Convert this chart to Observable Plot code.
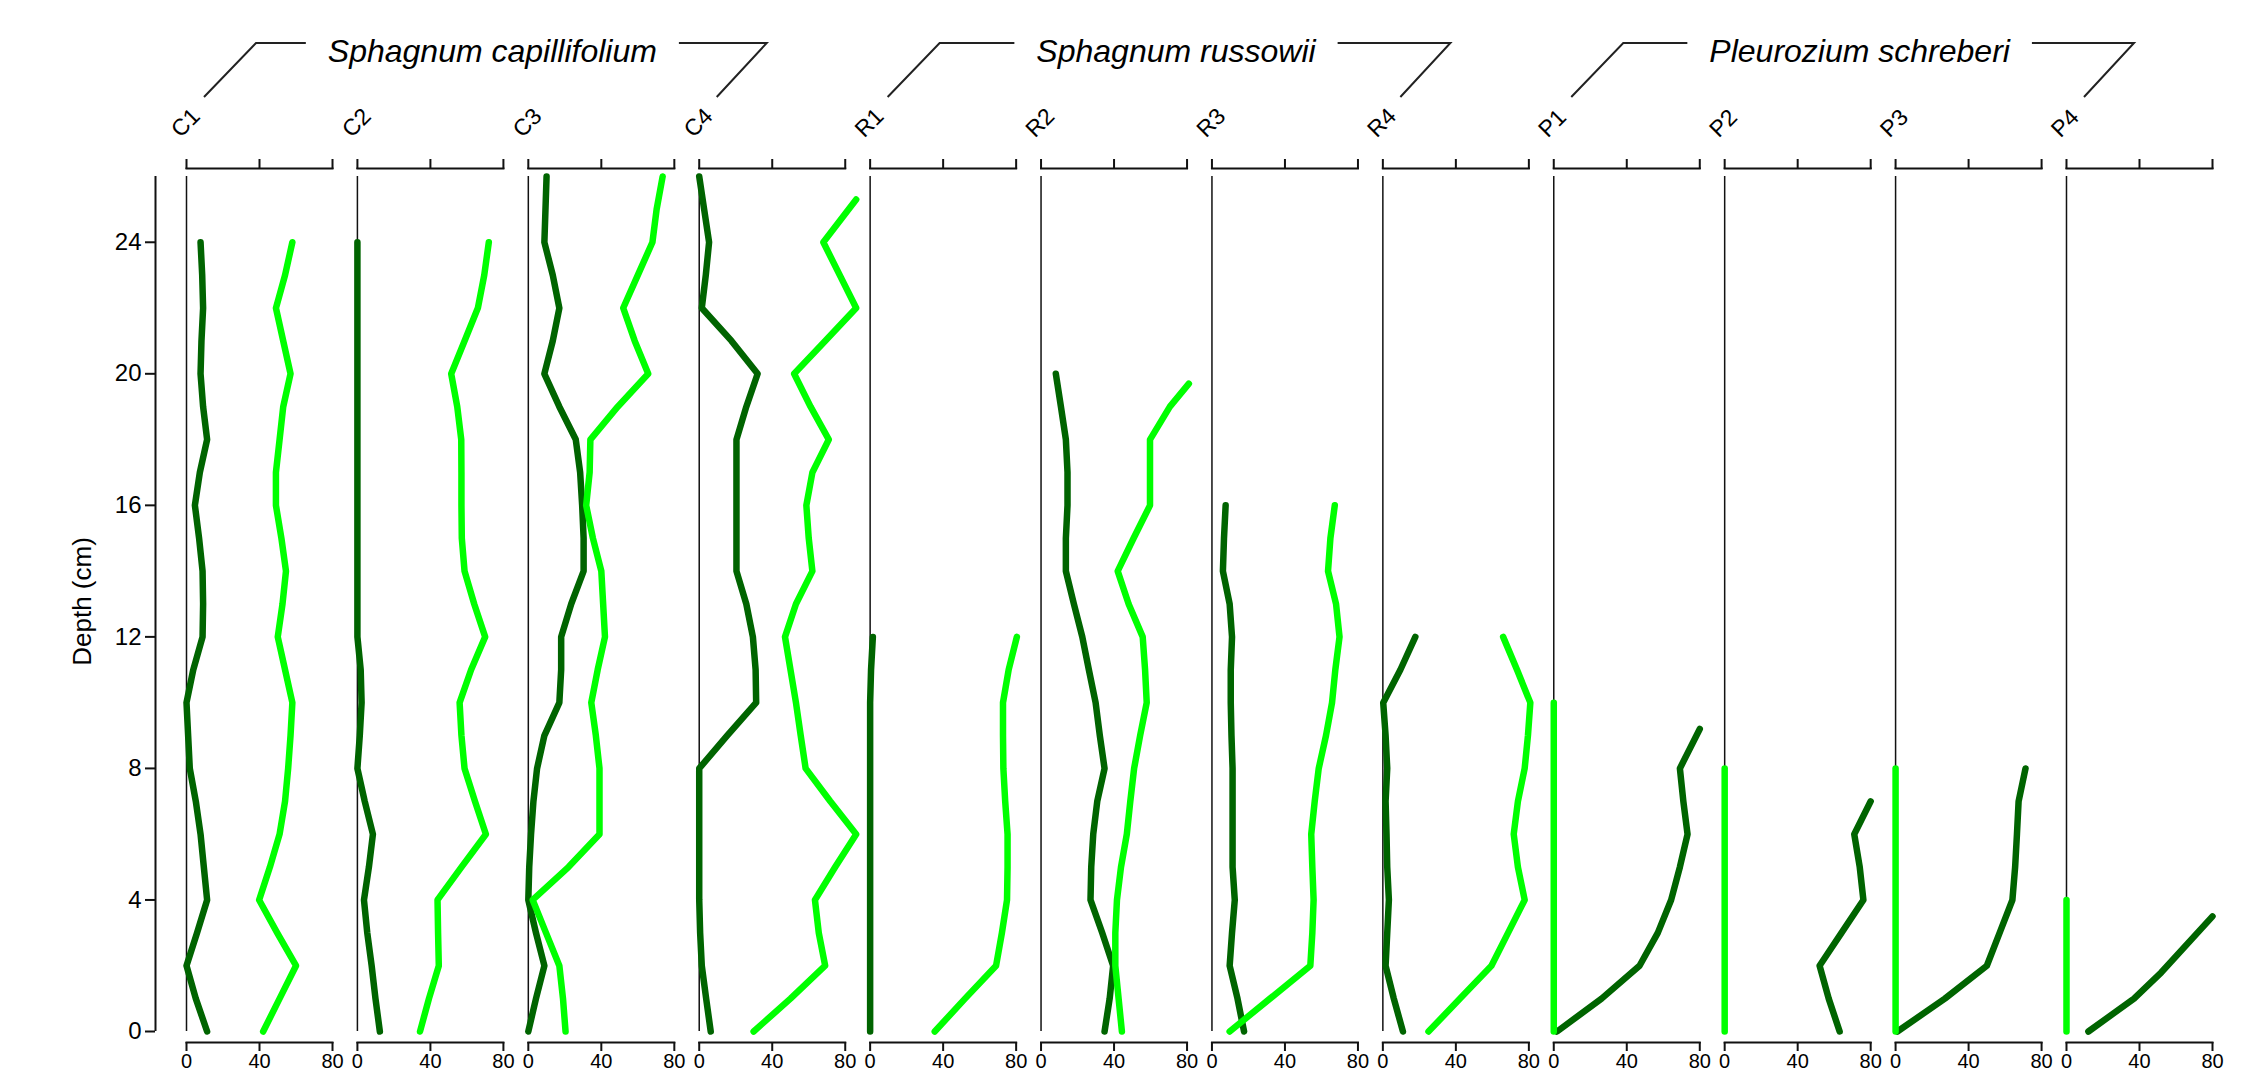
<!DOCTYPE html>
<html>
<head>
<meta charset="utf-8">
<script src="https://cdn.jsdelivr.net/npm/d3@7"></script>
<script src="https://cdn.jsdelivr.net/npm/@observablehq/plot@0.6"></script>
<style>
  html, body { margin: 0; padding: 0; background: #fff; }
  svg { display: block; }
</style>
</head>
<body>
<div id="chart"></div>
<script>
// ---------- categories & labels ----------
const sites = ["C1","C2","C3","C4","R1","R2","R3","R4","P1","P2","P3","P4"];
const groupNames = ["Sphagnum capillifolium", "Sphagnum russowii", "Pleurozium schreberi"];
const groupFirst = ["C1", "R1", "P1"];
const groupLast  = ["C4", "R4", "P4"];
const seriesNames = ["dark", "bright"];
const xTicks = [0, 40, 80];
const yTicks = [0, 4, 8, 12, 16, 20, 24];
const yLabel = "Depth (cm)";

// ---------- depth grids (cm) ----------
const D12 = [0,1,2,3,4,5,6,7,8,9,10,11,12];
const D16 = [0,1,2,3,4,5,6,7,8,9,10,11,12,13,14,15,16];
const D20 = [0,1,2,3,4,5,6,7,8,9,10,11,12,13,14,15,16,17,18,19,20];
const D24 = [0,1,2,3,4,5,6,7,8,9,10,11,12,13,14,15,16,17,18,19,20,21,22,23,24];
const D26 = [0,1,2,3,4,5,6,7,8,9,10,11,12,13,14,15,16,17,18,19,20,21,22,23,24,25,26];
const C4_bright_depth = [0,1,2,3,4,5,6,7,8,9,10,11,12,13,14,15,16,17,18,19,20,21,22,23,24,25.3];
const R2_bright_depth = [0,1,2,3,4,5,6,7,8,9,10,11,12,13,14,15,16,17,18,19,19.7];
const P1_dark_depth = [0,1,2,3,4,5,6,7,8,9.2];
const P2_dark_depth = [0,1,2,3,4,5,6,7];
const P3_dark_depth = [0,1,2,3,4,5,6,7,8];
const P4_dark_depth = [0,1,1.8,3.5];
const P1_bright_depth = [0,10];
const P2_bright_depth = [0,8];
const P3_bright_depth = [0,8];
const P4_bright_depth = [0,4];

// ---------- values (%) ----------
const C1_dark   = [11.3,5.1,0,5.8,11.3,9.5,7.7,5.1,1.8,0.9,0,3.7,8.8,9.1,8.8,6.9,4.6,7.3,11.3,9.1,7.7,8.2,9.1,8.6,7.7];
const C1_bright = [42,51,60,49.7,39.8,45.7,51,54,55.7,57,58,54,50,52.6,54.5,52,49,49,51,53,57,53,49,54,58];
const C2_dark   = [12.3,9.9,7.8,5.4,3.6,6.3,8.5,4,0,1.3,2.3,1.8,0,0,0,0,0,0,0,0,0,0,0,0,0];
const C2_bright = [34.3,39.2,44.6,44.2,43.9,57,70.4,64.4,58.7,57,56,62.3,70,64,58.7,57.2,57,57,56.9,54.7,51.4,58.7,66,69.5,72];
const C3_dark   = [0,4.2,8.8,4.2,0,0.5,1.5,2.8,4.8,8.8,17,18,18,23.5,30.3,30.3,29.5,28.4,26,17,8.8,13.4,17,13.4,8.8,9.4,10];
const C3_bright = [20.4,19,17,9.7,2.4,22,39,39,39,37,34.5,38,42,41,40,35.4,31.7,33.6,34,49,65.7,58.3,52,60,68,70.3,73.6];
const C4_dark   = [6.3,3.8,1.4,0.5,0,0,0,0,0,15.3,31.2,30.9,29.4,25.8,20.4,20.4,20.4,20.4,20.4,25.8,32,17.7,1.4,3.6,5.4,2.7,0];
const C4_bright = [29.8,50,69,65.5,63.4,74.5,86,71.8,58.3,55.6,53,50,47,53,62,60,58.7,62,71,61,52,69,86,77,68,86];
const R1_dark   = [0,0,0,0,0,0,0,0,0,0,0,0.5,1.5];
const R1_bright = [35.4,52,69,72.2,75,75.3,75.3,74,73,72.8,72.8,75.9,80.4];
const R2_dark   = [34.8,37.6,39.5,33.5,27.1,27.5,28.6,30.8,34.8,32.2,29.9,26.2,22.6,18,13.6,13.6,14.5,14.5,13.6,10.9,8.1];
const R2_bright = [44.3,42.5,40.7,40.7,41.6,43.8,47,48.9,51,54.3,57.9,57,55.7,48,42,50.7,59.7,59.7,59.7,70.6,81];
const R3_dark   = [17.6,14,9.7,11,12.5,11.3,11.3,11.3,11.3,10.7,10.3,10.3,11,9.7,6,6.6,7.5];
const R3_bright = [9.7,31.8,53.9,55,55.7,55,54.4,56.3,58.5,62.5,65.8,67.6,69.9,68,63.6,64.9,67.3];
const R4_dark   = [11,6,1.5,2.4,3.3,2.4,2,1.5,2.4,1.5,0.2,9.6,17.8];
const R4_bright = [25,42.3,59.5,68.6,77.7,74,71.7,74,77.7,79.5,80.8,73.5,65.9];
const P1_dark   = [1.8,26.2,47,57,64.3,69.1,73.3,71,69.1,80];
const P1_bright = [0,0];
const P2_dark   = [63,57,52,64,76,74,71,80];
const P2_bright = [0,0];
const P3_dark   = [1,27,50,57,64,65.5,66.5,67.4,71.2];
const P3_bright = [0,0];
const P4_dark   = [12,37,52,80];
const P4_bright = [0,0];

// ---------- table built from the arrays ----------
const profiles = [
  ["C1","dark",D24,C1_dark], ["C1","bright",D24,C1_bright],
  ["C2","dark",D24,C2_dark], ["C2","bright",D24,C2_bright],
  ["C3","dark",D26,C3_dark], ["C3","bright",D26,C3_bright],
  ["C4","dark",D26,C4_dark], ["C4","bright",C4_bright_depth,C4_bright],
  ["R1","dark",D12,R1_dark], ["R1","bright",D12,R1_bright],
  ["R2","dark",D20,R2_dark], ["R2","bright",R2_bright_depth,R2_bright],
  ["R3","dark",D16,R3_dark], ["R3","bright",D16,R3_bright],
  ["R4","dark",D12,R4_dark], ["R4","bright",D12,R4_bright],
  ["P1","dark",P1_dark_depth,P1_dark], ["P1","bright",P1_bright_depth,P1_bright],
  ["P2","dark",P2_dark_depth,P2_dark], ["P2","bright",P2_bright_depth,P2_bright],
  ["P3","dark",P3_dark_depth,P3_dark], ["P3","bright",P3_bright_depth,P3_bright],
  ["P4","dark",P4_dark_depth,P4_dark], ["P4","bright",P4_bright_depth,P4_bright]
];
const rows = [];
for (const [site, series, depths, values] of profiles) {
  depths.forEach((d, i) => rows.push({site, series, depth: d, value: values[i]}));
}

const FONT = "'Liberation Sans', Arial, Helvetica, sans-serif";

const chart = Plot.plot({
  width: 2245,
  height: 1078,
  marginLeft: 186,
  marginRight: 33,
  marginTop: 168,
  marginBottom: 36,
  style: {fontFamily: FONT, fontSize: "21px", color: "#000", background: "#fff", overflow: "visible"},
  fx: {domain: sites, paddingInner: 0.1457, paddingOuter: 0, round: false, axis: null},
  x: {domain: [0, 80], axis: null},
  y: {domain: [0, 26], insetTop: 8, insetBottom: 11, axis: null},
  color: {domain: seriesNames, range: ["#006400", "#00ff00"]},
  marks: [
    Plot.frame({anchor: "top", strokeWidth: 2, stroke: "#111"}),
    Plot.frame({anchor: "bottom", strokeWidth: 2, stroke: "#111"}),
    Plot.axisX({anchor: "top", ticks: xTicks, tickSize: 10, tickFormat: () => "", strokeWidth: 2, stroke: "#111", label: null}),
    Plot.axisX({anchor: "bottom", ticks: xTicks, tickSize: 9, tickPadding: 2, fontSize: 20, strokeWidth: 2, stroke: "#111", label: null}),
    Plot.ruleX(sites, {fx: d => d, x: 0, y1: 0, y2: 26, strokeWidth: 1.5, stroke: "#111"}),
    Plot.axisY({anchor: "left", ticks: yTicks, tickSize: 10, tickPadding: 4, fontSize: 24, dx: -31, strokeWidth: 2, stroke: "#111", label: null}),
    Plot.ruleX([sites[0]], {fx: d => d, x: 0, y1: 0, y2: 26, dx: -31, strokeWidth: 2, stroke: "#111"}),
    Plot.text([yLabel], {fx: () => sites[0], text: d => d, frameAnchor: "left", rotate: -90, dx: -104, dy: -4, fontSize: 26, textAnchor: "middle"}),
    Plot.text(sites, {fx: d => d, text: d => d, frameAnchor: "top-left", rotate: -45, textAnchor: "start", lineAnchor: "bottom", dy: -30, dx: -6, fontSize: 23}),
    Plot.line(rows, {x: "value", y: "depth", fx: "site", z: "series", stroke: "series", strokeWidth: 6.5, strokeLinejoin: "round", strokeLinecap: "round"})
  ]
});

document.getElementById("chart").appendChild(chart);

// ---------- group headers with brackets ----------
const svg = d3.select(chart);
const fxs = chart.scale("fx");
const g = svg.append("g").attr("font-family", FONT);
groupNames.forEach((name, i) => {
  const x1 = fxs.apply(groupFirst[i]);
  const x4 = fxs.apply(groupLast[i]);
  const cx = (x1 + x4) / 2 + 50;
  const t = g.append("text")
    .attr("x", cx).attr("y", 62)
    .attr("text-anchor", "middle")
    .attr("font-style", "italic")
    .attr("font-size", 32)
    .attr("fill", "#000")
    .text(name);
  const w = t.node().getComputedTextLength();
  g.append("path")
    .attr("d", `M${x1 + 18},97 L${x1 + 70},43 L${cx - w / 2 - 22},43`)
    .attr("fill", "none").attr("stroke", "#222").attr("stroke-width", 2);
  g.append("path")
    .attr("d", `M${cx + w / 2 + 22},43 L${x4 + 68},43 L${x4 + 18},97`)
    .attr("fill", "none").attr("stroke", "#222").attr("stroke-width", 2);
});
</script>
</body>
</html>
